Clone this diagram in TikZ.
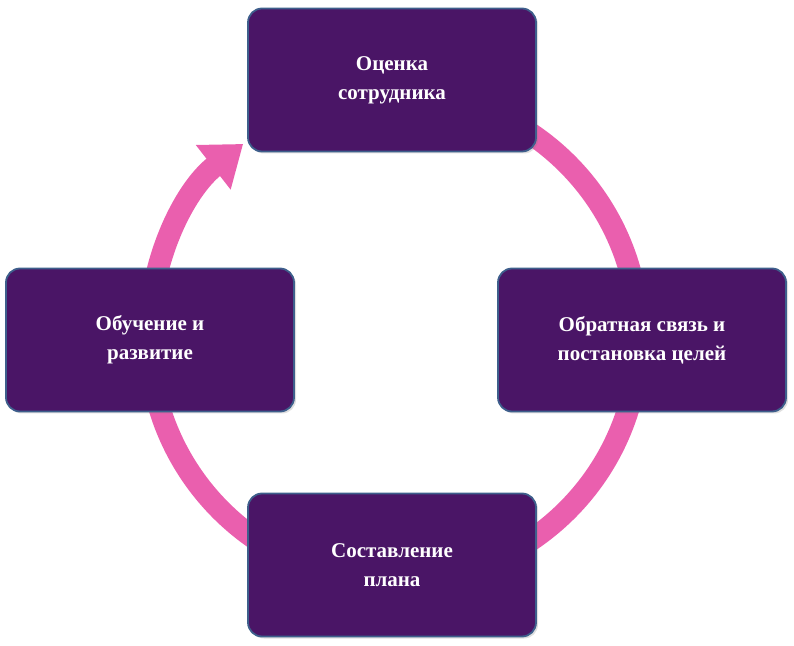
\documentclass[tikz,border=0pt]{standalone}
\usepackage{fontspec}
\setmainfont{Liberation Serif}
\usetikzlibrary{arrows.meta,shadows,calc}
\definecolor{boxfill}{HTML}{4A1566}
\definecolor{boxline}{HTML}{3E5F8C}
\definecolor{ringpink}{HTML}{EA5FAE}
\tikzset{stage/.style={draw=boxline,line width=1.8pt,fill=boxfill,rounded corners=14pt,
  minimum width=288pt,minimum height=143pt,text=white,align=center,
  font=\fontsize{21}{29}\selectfont\bfseries,drop shadow={opacity=0.25,shadow xshift=2pt,shadow yshift=-2pt}}}
\begin{document}
\begin{tikzpicture}[x=1pt,y=1pt]
\useasboundingbox (0,0) rectangle (794,645);
\coordinate (c) at (394,308);
\draw[ringpink,line width=22pt,-{Triangle[width=54pt,length=38pt]}]
  ($(c)+(90:245)$) arc[start angle=90,end angle=-232,radius=245];
\node[stage] (top) at (392,565) {Оценка\\сотрудника};
\node[stage] (right) at (642,305) {Обратная связь и\\постановка целей};
\node[stage] (bottom) at (392,80) {Составление\\плана};
\node[stage] (left) at (150,305) {Обучение и\\развитие};
\end{tikzpicture}
\end{document}
